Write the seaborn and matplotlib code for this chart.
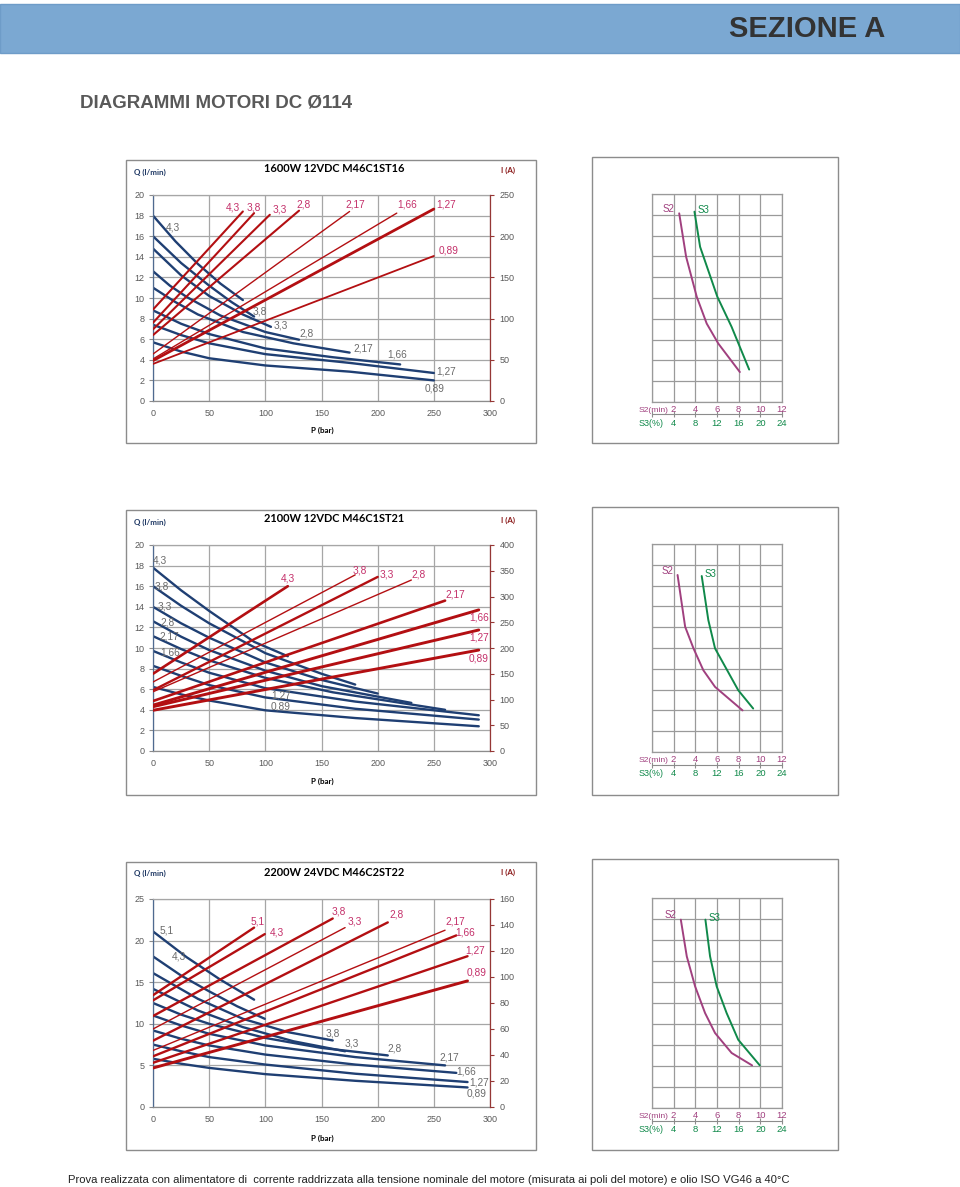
import numpy as np
import pandas as pd
import seaborn as sns
import matplotlib
matplotlib.use("Agg")
import matplotlib.pyplot as plt
import matplotlib.transforms as mtransforms
from matplotlib.patches import Rectangle
from matplotlib import font_manager as fm

# ---------------- data ----------------
HEADER = "SEZIONE A"
SUBTITLE = "DIAGRAMMI MOTORI DC Ø114"
FOOTER = ("Prova realizzata con alimentatore di  corrente raddrizzata alla tensione nominale "
          "del motore (misurata ai poli del motore) e olio ISO VG46 a 40°C")

P_TICKS = [0, 50, 100, 150, 200, 250, 300]

# Motor 1
M1_TITLE = "1600W 12VDC M46C1ST16"
M1_DISP = ["4,3", "3,8", "3,3", "2,8", "2,17", "1,66", "1,27", "0,89"]
M1_Q_TICKS = [0, 2, 4, 6, 8, 10, 12, 14, 16, 18, 20]
M1_I_TICKS = [0, 50, 100, 150, 200, 250]
M1_Q_P = [[0, 20, 40, 60, 80], [0, 25, 50, 70, 90], [0, 25, 50, 80, 105],
          [0, 15, 30, 60, 100, 130], [0, 20, 40, 80, 125, 175],
          [0, 25, 50, 100, 160, 220], [0, 25, 50, 100, 175, 250],
          [0, 25, 50, 100, 175, 250]]
M1_Q = [[18.0, 15.5, 13.3, 11.4, 9.8], [16.0, 13.4, 11.2, 9.6, 8.2],
        [14.8, 12.2, 10.2, 8.4, 7.2], [12.6, 11.2, 10.1, 8.3, 6.7, 5.95],
        [11.0, 9.6, 8.4, 6.7, 5.6, 4.7], [8.8, 7.5, 6.5, 5.1, 4.25, 3.55],
        [7.4, 6.4, 5.6, 4.55, 3.7, 2.72], [5.7, 4.8, 4.15, 3.45, 2.85, 2.0]]
M1_I_START = [111, 95, 87, 80, 57, 51, 49, 45]
M1_P_END = [80, 90, 104, 130, 175, 217, 250, 250]
M1_I_END = [230, 228, 226, 231, 230, 228, 233, 176]

# Motor 2
M2_TITLE = "2100W 12VDC M46C1ST21"
M2_DISP = ["4,3", "3,8", "3,3", "2,8", "2,17", "1,66", "1,27", "0,89"]
M2_Q_TICKS = [0, 2, 4, 6, 8, 10, 12, 14, 16, 18, 20]
M2_I_TICKS = [0, 50, 100, 150, 200, 250, 300, 350, 400]
M2_Q_P = [[0, 25, 50, 90, 120], [0, 25, 50, 100, 150, 180], [0, 25, 50, 100, 150, 200],
          [0, 25, 50, 100, 150, 230], [0, 25, 50, 100, 160, 260],
          [0, 25, 50, 100, 180, 290], [0, 25, 50, 100, 180, 290],
          [0, 25, 50, 100, 180, 290]]
M2_Q = [[17.8, 15.6, 13.6, 10.6, 9.2], [16.0, 14.1, 12.4, 9.5, 7.5, 6.45],
        [14.0, 12.4, 11.0, 8.6, 6.9, 5.58], [12.6, 11.1, 9.8, 7.8, 6.3, 4.67],
        [11.15, 9.9, 8.8, 7.1, 5.7, 4.0], [9.72, 8.6, 7.6, 6.1, 4.8, 3.47],
        [8.27, 7.3, 6.4, 5.2, 4.1, 3.05], [6.22, 5.5, 4.9, 3.95, 3.2, 2.4]]
M2_I_START = [150, 134, 118, 115, 97, 89, 86, 79]
M2_P_END = [120, 180, 200, 230, 260, 290, 290, 290]
M2_I_END = [320, 342, 338, 332, 292, 274, 235, 196]

# Motor 3
M3_TITLE = "2200W 24VDC M46C2ST22"
M3_DISP = ["5,1", "4,3", "3,8", "3,3", "2,8", "2,17", "1,66", "1,27", "0,89"]
M3_Q_TICKS = [0, 5, 10, 15, 20, 25]
M3_I_TICKS = [0, 20, 40, 60, 80, 100, 120, 140, 160]
M3_Q_P = [[0, 30, 60, 90], [0, 25, 50, 75, 99.5], [0, 40, 80, 120, 160],
          [0, 40, 80, 125, 171], [0, 25, 50, 100, 150, 209],
          [0, 25, 50, 100, 180, 260], [0, 25, 50, 100, 180, 270],
          [0, 25, 50, 100, 180, 280], [0, 25, 50, 100, 180, 280]]
M3_Q = [[21.1, 18.0, 15.3, 12.9], [18.1, 15.8, 13.9, 12.1, 10.6],
        [16.1, 13.0, 10.6, 9.0, 8.0], [14.2, 11.6, 9.6, 7.9, 6.7],
        [12.5, 11.1, 10.0, 8.3, 7.1, 6.2], [11.0, 9.8, 8.8, 7.4, 6.0, 5.0],
        [9.2, 8.2, 7.4, 6.3, 5.1, 4.1], [7.5, 6.7, 6.0, 5.1, 4.0, 3.0],
        [5.8, 5.2, 4.7, 3.95, 3.15, 2.35]]
M3_I_START = [86, 82, 70, 60, 51, 43.5, 39, 34, 30]
M3_P_END = [90, 99.5, 160, 171, 209, 260, 270, 280, 280]
M3_I_END = [138, 133, 145, 138, 142, 136, 132, 116, 97]

# Duty-cycle charts (S2 in min, S3 = 2 x S2 in %)
S2_TICKS = [0, 2, 4, 6, 8, 10, 12]
S3_TICKS = [0, 4, 8, 12, 16, 20, 24]
D1_S2_X = [2.51, 3.15, 4.13, 5.05, 6.12, 8.11]
D1_S2_Y = [9.07, 6.98, 5.06, 3.77, 2.81, 1.44]
D1_S3_X = [3.92, 4.44, 6.03, 7.35, 8.97]
D1_S3_Y = [9.15, 7.46, 5.06, 3.61, 1.56]
D2_S2_X = [2.36, 3.06, 3.83, 4.74, 5.82, 8.36]
D2_S2_Y = [8.51, 6.02, 4.98, 3.93, 3.13, 2.0]
D2_S3_X = [4.59, 5.2, 5.82, 7.96, 9.34]
D2_S3_Y = [8.46, 6.34, 4.98, 2.97, 2.09]
D3_S2_X = [2.66, 3.21, 3.98, 4.9, 5.82, 7.35, 9.24]
D3_S2_Y = [8.97, 7.22, 5.79, 4.52, 3.57, 2.62, 2.03]
D3_S3_X = [4.93, 5.36, 5.97, 6.89, 7.96, 9.95]
D3_S3_Y = [8.97, 7.22, 5.79, 4.52, 3.25, 2.03]

# ---------------- label placement (annotation positions) ----------------
M1_QLAB_POS = [(18, 16.8), (95, 8.65), (114, 7.36), (137, 6.55), (187, 5.1),
               (217, 4.5), (261, 2.9), (251, 1.2)]
M1_ILAB_POS = [(71, 235), (90, 235), (113, 233), (134, 238), (180, 238),
               (226, 238), (261, 238), (263, 183)]
M2_QLAB_POS = [(6.5, 18.5), (7.4, 16.0), (10.4, 14.0), (13.4, 12.5), (14.9, 11.15),
               (14.9, 9.6), (114, 5.4), (114, 4.3)]
M2_ILAB_POS = [(120, 335), (184, 351), (208, 342), (236, 342), (269, 304),
               (290, 259), (290, 220), (290, 180)]
M3_QLAB_POS = [(11.9, 21.2), (23.2, 18.1), (160, 8.8), (177, 7.6), (215, 7.0),
               (264, 5.9), (279, 4.3), (290, 3.0), (288, 1.6)]
M3_ILAB_POS = [(93, 142.6), (110, 134.4), (165, 150.3), (180, 142.6), (217, 147.7),
               (269, 142.6), (278, 134.4), (287, 120.3), (288, 103.7)]
M1_RED_LW = [1.5, 1.5, 1.5, 1.5, 1.0, 1.0, 2.0, 1.3]
M2_RED_LW = [1.9, 1.0, 1.7, 1.0, 1.9, 2.1, 2.1, 2.1]
M3_RED_LW = [1.7, 1.7, 1.7, 1.0, 1.7, 1.0, 1.7, 1.7, 2.1]

# ---------------- style ----------------
sns.set_theme(style="white")
names = {f.name for f in fm.fontManager.ttflist}
NARROW = "Liberation Sans Narrow" if "Liberation Sans Narrow" in names else "Liberation Sans"
TITLEF = "Lato" if "Lato" in names else "DejaVu Sans"
plt.rcParams["font.family"] = ["Liberation Sans", "DejaVu Sans"]

BLUE = "#1F3F73"
RED = "#B30F12"
REDLAB = "#C4306A"
GREYLAB = "#6B6B6B"
GRID = "#A6A6A6"
TICKC = "#595959"
PURPLE = "#A0407F"
GREEN = "#10894A"

W, H = 960, 1187
fig = plt.figure(figsize=(W / 100, H / 100), dpi=100)


def px(x0, y0, x1, y1):
    return [x0 / W, 1 - y1 / H, (x1 - x0) / W, (y1 - y0) / H]


bg = fig.add_axes([0, 0, 1, 1], zorder=-5)
bg.set_xlim(0, W)
bg.set_ylim(H, 0)
bg.axis("off")

bg.add_patch(Rectangle((0, 4), W, 49, facecolor="#7BA8D2", edgecolor="#6E9CC8", lw=1))
bg.text(885, 29, HEADER, ha="right", va="center", fontsize=21, fontweight="bold",
        color="#333333", family=NARROW)
bg.text(80, 103, SUBTITLE, ha="left", va="center", fontsize=13.5, fontweight="bold",
        color="#595959", family=[NARROW, "DejaVu Sans"])
bg.text(68, 1180, FOOTER, ha="left", va="center", fontsize=8.1, color="#222222",
        family=NARROW)

MAIN_BOX = [(126, 160, 536, 443), (126, 510, 536, 795), (126, 862, 536, 1150)]
SIDE_BOX = [(592, 157, 838, 443), (592, 507, 838, 795), (592, 859, 838, 1150)]
MAIN_AX = [(153, 195, 490, 401), (153, 545, 490, 751), (153, 899, 490, 1107)]
SIDE_AX = [(652, 194, 782, 402), (652, 544, 782, 752), (652, 898, 782, 1108)]
for (x0, y0, x1, y1) in MAIN_BOX + SIDE_BOX:
    bg.add_patch(Rectangle((x0, y0), x1 - x0, y1 - y0, facecolor="none",
                           edgecolor="#8C8C8C", lw=1.0))

TEXT_Y = [(169, 172.5, 170, 430), (519, 522.5, 520, 781), (872, 873, 872, 1138)]


def motor_panel(idx, title, disp, qticks, iticks, qp, qv, i0, pend, iend, qlab, ilab, rlw):
    ty, qy, iy, py = TEXT_Y[idx]
    bg.text(334, ty, title, ha="center", va="center", fontsize=7.9, fontweight="bold",
            color="black", family=TITLEF)
    bg.text(134, qy, "Q (l/min)", ha="left", va="center", fontsize=5.8, fontweight="bold",
            color="#1F3864", family=TITLEF)
    bg.text(508, iy, "I (A)", ha="center", va="center", fontsize=5.8, fontweight="bold",
            color="#8B1A1A", family=TITLEF)
    bg.text(322, py, "P (bar)", ha="center", va="center", fontsize=5.8, fontweight="bold",
            color="black", family=TITLEF)

    ax = fig.add_axes(px(*MAIN_AX[idx]))
    ax.set_facecolor("white")
    for k in range(len(disp)):
        sns.lineplot(x=qp[k], y=qv[k], ax=ax, color=BLUE, lw=1.7, estimator=None,
                     sort=False, legend=False)
        ax.text(qlab[k][0], qlab[k][1], disp[k], color=GREYLAB, fontsize=7.3,
                ha="center", va="center")
    ax.set_xlim(0, 300)
    ax.set_ylim(0, qticks[-1])
    ax.set_xticks(P_TICKS)
    ax.set_xticklabels([str(v) for v in P_TICKS])
    ax.set_yticks(qticks)
    ax.set_yticklabels([str(v) for v in qticks])
    ax.set_xlabel("")
    ax.set_ylabel("")
    ax.grid(True, color=GRID, lw=0.9)
    ax.set_axisbelow(True)
    ax.tick_params(axis="both", labelsize=6.5, labelcolor=TICKC, length=3, width=0.8,
                   color="#8C8C8C", pad=3)
    ax.spines["left"].set_color("#4F6A90")
    ax.spines["bottom"].set_color("#8C8C8C")
    ax.spines["top"].set_color(GRID)
    ax.spines["right"].set_visible(False)
    for s in ax.spines.values():
        s.set_linewidth(0.9)

    axr = ax.twinx()
    for k in range(len(disp)):
        sns.lineplot(x=[0, pend[k]], y=[i0[k], iend[k]], ax=axr, color=RED, lw=rlw[k],
                     estimator=None, sort=False, legend=False)
        axr.text(ilab[k][0], ilab[k][1], disp[k], color=REDLAB, fontsize=7.3,
                 ha="center", va="center")
    axr.set_ylim(0, iticks[-1])
    axr.set_yticks(iticks)
    axr.set_yticklabels([str(v) for v in iticks])
    axr.set_ylabel("")
    axr.grid(False)
    axr.tick_params(axis="y", labelsize=6.5, labelcolor=TICKC, length=3, width=0.8,
                    color="#953735", pad=4)
    for side in ["left", "top", "bottom"]:
        axr.spines[side].set_visible(False)
    axr.spines["right"].set_color("#953735")
    axr.spines["right"].set_linewidth(0.9)


def duty_panel(idx, s2x, s2y, s3x, s3y):
    ax = fig.add_axes(px(*SIDE_AX[idx]))
    ax.set_facecolor("white")
    sns.lineplot(x=s2x, y=s2y, ax=ax, color=PURPLE, lw=1.4, estimator=None, sort=False,
                 legend=False)
    sns.lineplot(x=s3x, y=s3y, ax=ax, color=GREEN, lw=1.4, estimator=None, sort=False,
                 legend=False)
    ax.set_xlim(0, 12)
    ax.set_ylim(0, 10)
    ax.set_xticks(S2_TICKS)
    ax.set_xticklabels([""] + [str(v) for v in S2_TICKS[1:]])
    ax.set_yticks(range(0, 11))
    ax.set_yticklabels([])
    ax.set_xlabel("")
    ax.set_ylabel("")
    ax.grid(True, color="#9A9A9A", lw=0.9)
    ax.tick_params(axis="x", length=0, labelsize=6.8, labelcolor=PURPLE, pad=2.0)
    ax.tick_params(axis="y", length=0)
    for s in ax.spines.values():
        s.set_color("#9A9A9A")
        s.set_linewidth(0.9)
    hpx = SIDE_AX[idx][3] - SIDE_AX[idx][1]
    sec = ax.secondary_xaxis(-12.5 / hpx, functions=(lambda x: 2 * x, lambda x: x / 2))
    sec.set_xticks(S3_TICKS)
    sec.set_xticklabels([""] + [str(v) for v in S3_TICKS[1:]])
    sec.tick_params(axis="x", length=4, direction="inout", width=0.8, color="#8C8C8C",
                    labelsize=6.8, labelcolor=GREEN, pad=1.5)
    sec.spines["bottom"].set_color("#8C8C8C")
    sec.spines["bottom"].set_linewidth(0.8)
    trans = mtransforms.blended_transform_factory(ax.transData, ax.transAxes)
    ax.text(-1.25, -8.5 / hpx, "S2(min)", transform=trans, ha="left", va="center",
            fontsize=6.1, color=PURPLE)
    ax.text(-1.25, -21.5 / hpx, "S3(%)", transform=trans, ha="left", va="center",
            fontsize=6.4, color=GREEN)
    ax.text(s2x[0] - 0.4, s2y[0] + 0.2, "S2", ha="right", va="center", fontsize=7,
            color=PURPLE)
    ax.text(s3x[0] + 0.3, s3y[0] + 0.1, "S3", ha="left", va="center", fontsize=7,
            color=GREEN)


motor_panel(0, M1_TITLE, M1_DISP, M1_Q_TICKS, M1_I_TICKS, M1_Q_P, M1_Q, M1_I_START,
            M1_P_END, M1_I_END, M1_QLAB_POS, M1_ILAB_POS, M1_RED_LW)
motor_panel(1, M2_TITLE, M2_DISP, M2_Q_TICKS, M2_I_TICKS, M2_Q_P, M2_Q, M2_I_START,
            M2_P_END, M2_I_END, M2_QLAB_POS, M2_ILAB_POS, M2_RED_LW)
motor_panel(2, M3_TITLE, M3_DISP, M3_Q_TICKS, M3_I_TICKS, M3_Q_P, M3_Q, M3_I_START,
            M3_P_END, M3_I_END, M3_QLAB_POS, M3_ILAB_POS, M3_RED_LW)

duty_panel(0, D1_S2_X, D1_S2_Y, D1_S3_X, D1_S3_Y)
duty_panel(1, D2_S2_X, D2_S2_Y, D2_S3_X, D2_S3_Y)
duty_panel(2, D3_S2_X, D3_S2_Y, D3_S3_X, D3_S3_Y)

fig.savefig("out.png", dpi=100, facecolor="white")
